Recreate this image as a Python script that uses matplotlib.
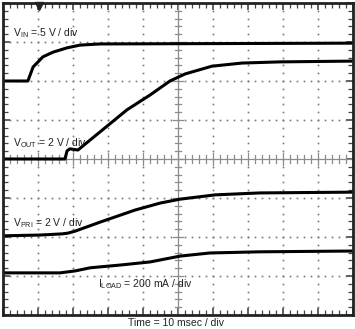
import numpy as np
import matplotlib.pyplot as plt

plt.rcParams['font.family'] = ['Liberation Sans Narrow', 'Liberation Sans', 'DejaVu Sans']

# traces, in scope divisions (x: 0..10, y: -4..4)
vin_x = [0, 0.71, 0.86, 1.14, 1.43, 1.83, 2.2, 2.77, 10]
vin_y = [2.0, 2.0, 2.36, 2.62, 2.74, 2.85, 2.92, 2.95, 2.97]

vout_x = [0, 1.77, 1.83, 1.91, 2.14, 3.54, 4.2, 4.77, 5.2, 5.97, 6.83, 7.91, 10]
vout_y = [0, 0, 0.21, 0.26, 0.23, 1.26, 1.64, 2.0, 2.18, 2.38, 2.46, 2.49, 2.51]

vpri_x = [0, 1.06, 1.69, 1.86, 2.06, 2.77, 3.77, 4.49, 5.06, 6.06, 7.34, 10]
vpri_y = [-1.97, -1.95, -1.92, -1.9, -1.85, -1.62, -1.31, -1.13, -1.03, -0.92, -0.87, -0.85]

iload_x = [0, 1.63, 2.06, 2.49, 3.34, 4.2, 5.06, 5.91, 7.34, 10]
iload_y = [-2.92, -2.92, -2.87, -2.79, -2.72, -2.64, -2.49, -2.41, -2.38, -2.36]

fig = plt.figure(figsize=(3.55, 3.29), dpi=100)
ax = fig.add_axes([0.0085, 0.0426, 0.986, 0.9483])
ax.set_xlim(0, 10)
ax.set_ylim(-4, 4)

# dotted grid
minor_x = np.arange(0, 10.01, 0.2)
minor_y = np.arange(-4, 4.01, 0.2)
for gx in range(1, 10):
    if gx != 5:
        ax.plot([gx] * len(minor_y), minor_y, ls='none', marker='s', ms=1.2, color='#777777', mew=0)
for gy in range(-3, 4):
    if gy != 0:
        ax.plot(minor_x, [gy] * len(minor_x), ls='none', marker='s', ms=1.2, color='#777777', mew=0)

# center cross with ticks
ax.axhline(0, color='#8c8c8c', lw=0.9)
ax.axvline(5, color='#8c8c8c', lw=0.9)
for tx in minor_x:
    h = 0.16 if abs(tx - round(tx)) < 1e-6 else 0.1
    ax.plot([tx, tx], [-h, h], color='#8c8c8c', lw=0.9)
for ty in minor_y:
    h = 0.14 if abs(ty - round(ty)) < 1e-6 else 0.09
    ax.plot([5 - h, 5 + h], [ty, ty], color='#8c8c8c', lw=0.9)

ax.set_xticks(range(0, 11))
ax.set_yticks(range(-4, 5))
ax.set_xticks(minor_x, minor=True)
ax.set_yticks(minor_y, minor=True)
ax.tick_params(which='both', direction='in', top=True, right=True,
               labelbottom=False, labelleft=False, color='#444444')
ax.tick_params(which='major', length=5, width=1.2)
ax.tick_params(which='minor', length=3.5, width=0.9)
for s in ax.spines.values():
    s.set_linewidth(2)
    s.set_color('#222222')

# traces
for xs, ys in [(vin_x, vin_y), (vout_x, vout_y), (vpri_x, vpri_y), (iload_x, iload_y)]:
    ax.plot(xs, ys, color='black', lw=2.2, solid_joinstyle='round')

# trigger marker
ax.plot([1.03], [3.93], marker='v', ms=6, color='#222222', clip_on=False)

fs = 7.5
ax.text(0.29, 3.23, r'V$_{\mathregular{IN}}$ = 5 V / div', fontsize=fs, va='center', color='#222222')
ax.text(0.29, 0.41, r'V$_{\mathregular{OUT}}$ = 2 V / div', fontsize=fs, va='center', color='#222222')
ax.text(0.29, -1.64, r'V$_{\mathregular{PRI}}$ = 2 V / div', fontsize=fs, va='center', color='#222222')
ax.text(2.71, -3.2, r'I$_{\mathregular{LOAD}}$ = 200 mA / div', fontsize=fs, va='center', color='#222222')
fig.text(0.495, 0.018, 'Time = 10 msec / div', fontsize=fs, ha='center', va='center', color='#222222')

fig.savefig('out.png', dpi=100)
